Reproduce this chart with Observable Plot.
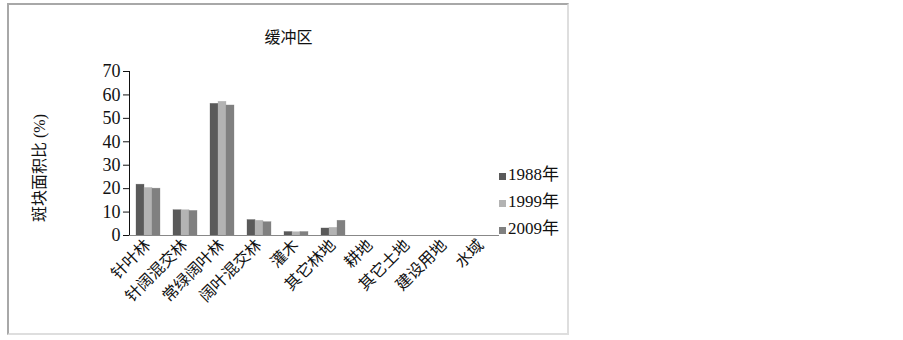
<!DOCTYPE html>
<html>
<head>
<meta charset="utf-8">
<script src="https://cdn.jsdelivr.net/npm/d3@7"></script>
<script src="https://cdn.jsdelivr.net/npm/@observablehq/plot@0.6"></script>
<style>
  body { margin: 0; background: #fff; }
  #wrap { position: relative; width: 903px; height: 340px; overflow: hidden; font-family: "Liberation Serif", "Noto Sans CJK SC", serif; }
  #frame { position: absolute; left: 7px; top: 3px; width: 562px; height: 332px;
           border-left: 2px solid #a8a8a8; border-top: 2px solid #a8a8a8;
           border-right: 2px solid #dedede; border-bottom: 2px solid #dedede; box-sizing: border-box; }
  #title { position: absolute; left: 7px; width: 563px; top: 24px; text-align: center; font-size: 16px; color: #111; font-family: "Noto Sans CJK SC", sans-serif; }
  #ylabel { position: absolute; left: 38px; top: 168px; transform: translate(-50%, -50%) rotate(-90deg); white-space: nowrap; font-size: 16px; color: #111; font-family: "Liberation Serif", "Noto Sans CJK SC", serif; }
  #legend { position: absolute; left: 499px; top: 161px; font-size: 17px; color: #111; }
  .li { height: 27px; line-height: 22px; display: flex; align-items: center; }
  .sw { width: 7px; height: 7px; margin-right: 2px; margin-top: 4px; }
  svg { position: absolute; left: 0; top: 0; }
</style>
</head>
<body>
<div id="wrap">
  <div id="frame"></div>
  <div id="title">缓冲区</div>
  <div id="ylabel">斑块面积比 (%)</div>
  <div id="legend"></div>
</div>
<script>
const categories = ["针叶林", "针阔混交林", "常绿阔叶林", "阔叶混交林", "灌木", "其它林地", "耕地", "其它土地", "建设用地", "水域"];
const years = ["1988年", "1999年", "2009年"];
const v1988 = [21.7, 10.8, 56.2, 6.6, 1.5, 3.0, 0, 0, 0, 0];
const v1999 = [20.3, 10.8, 57.1, 6.3, 1.4, 3.3, 0, 0, 0, 0];
const v2009 = [20.0, 10.5, 55.5, 5.7, 1.5, 6.3, 0, 0, 0, 0];
const colors = ["#5a5a5a", "#b3b3b3", "#808080"];
const yTicks = [0, 10, 20, 30, 40, 50, 60, 70];

const series = [v1988, v1999, v2009];
const data = [];
categories.forEach((c, i) => years.forEach((y, j) => data.push({category: c, year: y, value: series[j][i]})));

const chart = Plot.plot({
  width: 903,
  height: 340,
  marginLeft: 129,
  marginRight: 404,
  marginTop: 71,
  marginBottom: 105,
  style: {fontFamily: "'Liberation Serif', 'Noto Sans CJK SC', serif", fontSize: "17px", color: "#111", background: "transparent"},
  fx: {domain: categories, paddingInner: 0, paddingOuter: 0, label: null, tickRotate: -45, tickSize: 0, tickPadding: 7},
  x: {domain: years, paddingInner: 0, paddingOuter: 0.8, axis: null},
  y: {domain: [0, 70], ticks: yTicks, tickSize: 6, tickPadding: 3, label: null, line: true},
  color: {domain: years, range: colors},
  marks: [
    Plot.barY(data, {fx: "category", x: "year", y: "value", fill: "year", stroke: "year", strokeWidth: 0.5, strokeOpacity: 0.6}),
    Plot.ruleY([0], {stroke: "#888", strokeWidth: 1})
  ]
});
chart.querySelectorAll("g[aria-label='fx-axis tick label'] text").forEach(t => {
  t.style.fontFamily = "'Noto Sans CJK SC', sans-serif";
  t.style.fontSize = "16px";
});
chart.querySelectorAll("g[aria-label='y-axis tick label']").forEach(g => {
  g.setAttribute("font-size", "18");
  g.querySelectorAll("text").forEach(t => { t.style.fontSize = "18px"; t.style.fontFamily = "'Liberation Serif', serif"; });
});
chart.querySelectorAll("g[aria-label='y-axis tick'], g[aria-label='y-axis line']").forEach(g => g.setAttribute("stroke", "#888"));
document.getElementById("wrap").appendChild(chart);

const legend = document.getElementById("legend");
years.forEach((y, j) => {
  const row = document.createElement("div");
  row.className = "li";
  const sw = document.createElement("span");
  sw.className = "sw";
  sw.style.background = colors[j];
  const tx = document.createElement("span");
  tx.textContent = y;
  row.appendChild(sw); row.appendChild(tx);
  legend.appendChild(row);
});
</script>
</body>
</html>
